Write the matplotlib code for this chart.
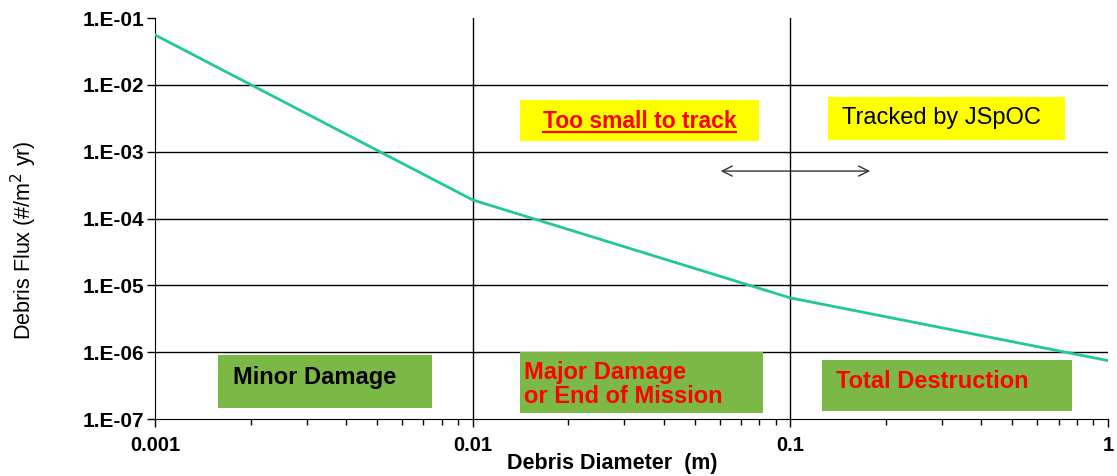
import matplotlib
matplotlib.use('Agg')
import matplotlib.pyplot as plt
from matplotlib.patches import Rectangle, FancyArrowPatch

plt.rcParams['font.family'] = ['Liberation Sans', 'DejaVu Sans']

# данные кривой потока
diameter = [0.001, 0.01, 0.1, 1.0]
flux = [5.6e-2, 1.9e-4, 6.5e-6, 7.5e-7]

x_ticks = [0.001, 0.01, 0.1, 1]
x_labels = ['0.001', '0.01', '0.1', '1']
y_ticks = [1e-7, 1e-6, 1e-5, 1e-4, 1e-3, 1e-2, 1e-1]
y_labels = ['1.E-07', '1.E-06', '1.E-05', '1.E-04', '1.E-03', '1.E-02', '1.E-01']

fig = plt.figure(figsize=(11.17, 4.76), dpi=100)
ax = fig.add_axes([0.1388, 0.1197, 0.853, 0.8423])

ax.plot(diameter, flux, color='#22c79c', lw=2, zorder=3)
ax.set_xscale('log')
ax.set_yscale('log')
ax.set_xlim(0.001, 1)
ax.set_ylim(1e-7, 1e-1)

# сетка
for y in y_ticks[1:-1]:
    ax.axhline(y, color='black', lw=1, zorder=1)
for x in x_ticks[1:-1]:
    ax.axvline(x, color='black', lw=1, zorder=1)

for s in ['top', 'right']:
    ax.spines[s].set_visible(False)

ax.set_xticks(x_ticks)
ax.set_xticklabels(x_labels, fontweight='bold', fontsize=14.5)
ax.set_yticks(y_ticks)
ax.set_yticklabels(y_labels, fontweight='bold', fontsize=15)
ax.yaxis.set_minor_locator(matplotlib.ticker.NullLocator())
ax.tick_params(axis='both', which='major', direction='out', length=6, width=1)
ax.tick_params(axis='x', which='minor', direction='out', length=4, width=1)
ax.tick_params(axis='x', pad=6)
ax.tick_params(axis='y', pad=2)
ax.set_xlabel('Debris Diameter  (m)', fontweight='bold', fontsize=15.5)
ax.xaxis.set_label_coords(0.48, -0.085)
ax.set_ylabel('Debris Flux (#/m$^2$ yr)', fontsize=15.5)
ax.yaxis.set_label_coords(-0.122, 0.446)


def box(x0, x1, y0, y1, color):
    # координаты в пикселях -> доли осей
    ax_x0, ax_x1 = 155, 1108
    ax_y0, ax_y1 = 18, 419
    fx = (x0 - ax_x0) / (ax_x1 - ax_x0)
    fw = (x1 - x0) / (ax_x1 - ax_x0)
    fy = (ax_y1 - y1) / (ax_y1 - ax_y0)
    fh = (y1 - y0) / (ax_y1 - ax_y0)
    ax.add_patch(Rectangle((fx, fy), fw, fh, transform=ax.transAxes,
                           facecolor=color, edgecolor='none', zorder=4))
    return fx, fy, fw, fh


green = '#7cb846'
fx, fy, fw, fh = box(218, 432, 355, 408, green)
ax.text(fx + 0.016, fy + fh / 2 + 0.01, 'Minor Damage', transform=ax.transAxes,
        fontsize=17, fontweight='bold', color='black', va='center', zorder=5)
fx, fy, fw, fh = box(520, 763, 352, 413, green)
ax.text(fx + 0.004, fy + fh / 2 - 0.004, 'Major Damage\nor End of Mission', transform=ax.transAxes,
        fontsize=17, fontweight='bold', color='red', va='center', zorder=5,
        linespacing=1.05)
fx, fy, fw, fh = box(822, 1072, 360, 411, green)
ax.text(fx + 0.015, fy + fh / 2 + 0.01, 'Total Destruction', transform=ax.transAxes,
        fontsize=17, fontweight='bold', color='red', va='center', zorder=5)

fx, fy, fw, fh = box(520, 759, 100, 141, 'yellow')
t = ax.text(fx + fw / 2, fy + fh / 2 - 0.003, 'Too small to track', transform=ax.transAxes,
            fontsize=16.5, fontweight='bold', color='red', va='center', ha='center', zorder=5)
# подчёркивание по ширине текста
fig.canvas.draw()
bb = t.get_window_extent().transformed(ax.transAxes.inverted())
ax.plot([bb.x0, bb.x1], [bb.y0 + 0.004, bb.y0 + 0.004], transform=ax.transAxes,
        color='red', lw=1.6, zorder=5)
fx, fy, fw, fh = box(828, 1065, 97, 140, 'yellow')
ax.text(fx + fw / 2 - 0.005, fy + fh / 2 + 0.002, 'Tracked by JSpOC', transform=ax.transAxes,
        fontsize=17, color='black', va='center', ha='center', zorder=5)

# двусторонняя стрелка
ax.add_patch(FancyArrowPatch(((718 - 155) / 953, (419 - 171) / 401),
                             ((873 - 155) / 953, (419 - 171) / 401),
                             transform=ax.transAxes, arrowstyle='<->', mutation_scale=18,
                             color='#333333', lw=1, zorder=5))

fig.savefig('out.png', dpi=100)
